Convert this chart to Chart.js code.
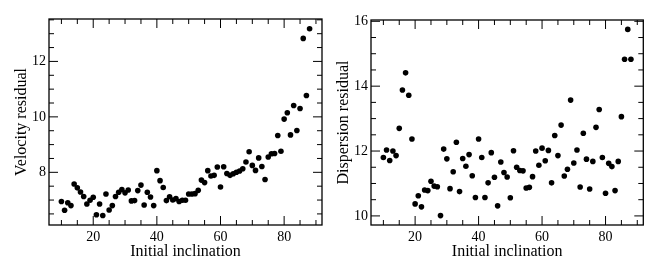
<!DOCTYPE html>
<html>
<head>
<meta charset="utf-8">
<script src="https://cdn.jsdelivr.net/npm/chart.js@4"></script>
<style>
  html, body { margin: 0; padding: 0; background: #fff; }
  .wrap { position: absolute; top: 0; width: 330px; height: 275px; }
  #left { left: 0; }
  #right { left: 330px; }
</style>
</head>
<body>
<div class="wrap" id="left"><canvas id="velChart" width="330" height="275"></canvas></div>
<div class="wrap" id="right"><canvas id="dispChart" width="330" height="275"></canvas></div>
<script>
// initial inclination (x) shared by both panels
const inclination = [10, 11, 12, 13, 14, 15, 16, 17, 18, 19, 20, 21, 22, 23, 24, 25, 26, 27, 28, 29,
  30, 31, 32, 33, 34, 35, 36, 37, 38, 39, 40, 41, 42, 43, 44, 45, 46, 47, 48, 49,
  50, 51, 52, 53, 54, 55, 56, 57, 58, 59, 60, 61, 62, 63, 64, 65, 66, 67, 68, 69,
  70, 71, 72, 73, 74, 75, 76, 77, 78, 79, 80, 81, 82, 83, 84, 85, 86, 87, 88];

// left panel
const velocityResidual = [6.95, 6.63, 6.9, 6.8, 7.58, 7.44, 7.29, 7.13, 6.86, 6.99, 7.1, 6.47, 6.86, 6.44, 7.22, 6.64, 6.8, 7.13, 7.28, 7.38,
  7.26, 7.36, 6.97, 6.98, 7.34, 7.54, 6.82, 7.28, 7.11, 6.8, 8.06, 7.7, 7.45, 6.98, 7.12, 7.0, 7.05, 6.95, 6.99, 6.99,
  7.22, 7.22, 7.23, 7.35, 7.72, 7.63, 8.06, 7.87, 7.89, 8.19, 7.47, 8.2, 7.96, 7.89, 7.95, 8.0, 8.05, 8.13, 8.37, 8.74,
  8.25, 8.07, 8.52, 8.21, 7.74, 8.55, 8.67, 8.68, 9.33, 8.76, 9.92, 10.15, 9.35, 10.41, 9.51, 10.3, 12.83, 10.77, 13.18];

// right panel
const dispersionResidual = [11.8, 12.03, 11.71, 12.0, 11.86, 12.7, 13.88, 14.41, 13.72, 12.37, 10.37, 10.62, 10.28, 10.8, 10.78, 11.07, 10.92, 10.9, 10.01, 12.06,
  11.76, 10.84, 11.36, 12.27, 10.75, 11.77, 11.53, 11.89, 11.24, 10.57, 12.37, 11.8, 10.57, 11.02, 11.95, 11.19, 10.31, 11.66, 11.34, 11.2,
  10.56, 12.01, 11.5, 11.4, 11.39, 10.86, 10.88, 11.21, 12.0, 11.56, 12.09, 11.7, 12.02, 11.02, 12.48, 11.86, 12.8, 11.23, 11.44, 13.57,
  11.63, 12.03, 10.89, 12.55, 11.75, 10.83, 11.68, 12.73, 13.28, 11.8, 10.7, 11.62, 11.52, 10.78, 11.68, 13.06, 14.83, 15.75, 14.83];

const xLabel = 'Initial inclination';
const serif = '"Liberation Serif", "DejaVu Serif", serif';

// inward ticks on all four sides plus the box, like matplotlib's "in" style
const frameTicks = {
  id: 'frameTicks',
  afterDatasetsDraw(chart, args, opts) {
    const {ctx, chartArea: a} = chart;
    const xs = chart.scales.x, ys = chart.scales.y;
    ctx.save();
    ctx.strokeStyle = '#000';
    ctx.lineWidth = 1;
    const major = 9, minor = 5;
    const drawX = (v, len) => {
      const px = xs.getPixelForValue(v);
      ctx.beginPath();
      ctx.moveTo(px, a.bottom); ctx.lineTo(px, a.bottom - len);
      ctx.moveTo(px, a.top); ctx.lineTo(px, a.top + len);
      ctx.stroke();
    };
    const drawY = (v, len) => {
      const py = ys.getPixelForValue(v);
      ctx.beginPath();
      ctx.moveTo(a.left, py); ctx.lineTo(a.left + len, py);
      ctx.moveTo(a.right, py); ctx.lineTo(a.right - len, py);
      ctx.stroke();
    };
    for (let v = Math.ceil(xs.min / opts.xMinor) * opts.xMinor; v <= xs.max; v += opts.xMinor) {
      drawX(v, v % opts.xMajor === 0 ? major : minor);
    }
    for (let v = Math.ceil(ys.min / opts.yMinor) * opts.yMinor; v <= ys.max + 1e-9; v += opts.yMinor) {
      const isMajor = Math.abs(v / opts.yMajor - Math.round(v / opts.yMajor)) < 1e-6;
      drawY(v, isMajor ? major : minor);
    }
    ctx.lineWidth = 1.3;
    ctx.strokeRect(a.left, a.top, a.right - a.left, a.bottom - a.top);
    ctx.restore();
  }
};

function makeChart(id, values, yTitle, yMin, yMax, pad, yWidth, titlePad) {
  return new Chart(document.getElementById(id), {
    type: 'scatter',
    data: {
      datasets: [{
        data: inclination.map((x, i) => ({x: x, y: values[i]})),
        backgroundColor: '#000',
        borderWidth: 0,
        pointRadius: 2.8,
        pointHoverRadius: 2.8
      }]
    },
    options: {
      responsive: false,
      animation: false,
      events: [],
      layout: { padding: pad },
      plugins: {
        legend: { display: false },
        tooltip: { enabled: false },
        frameTicks: { xMinor: 5, xMajor: 20, yMinor: 0.5, yMajor: 2 }
      },
      scales: {
        x: {
          type: 'linear',
          min: 6.1,
          max: 91.9,
          grid: { display: false, drawTicks: false },
          border: { display: false },
          ticks: {
            stepSize: 20,
            includeBounds: false,
            padding: 4,
            color: '#000',
            font: { family: serif, size: 14 }
          },
          title: {
            display: true,
            text: xLabel,
            color: '#000',
            font: { family: serif, size: 16 },
            padding: { top: 0, bottom: 14 }
          },
          afterFit(s) { s.height = 50; }
        },
        y: {
          type: 'linear',
          min: yMin,
          max: yMax,
          grid: { display: false, drawTicks: false },
          border: { display: false },
          ticks: {
            stepSize: 2,
            includeBounds: false,
            padding: 3,
            color: '#000',
            font: { family: serif, size: 14 }
          },
          title: {
            display: true,
            text: yTitle,
            color: '#000',
            font: { family: serif, size: 16 },
            padding: { top: titlePad, bottom: 0 }
          },
          afterFit(s) { s.width = yWidth; }
        }
      }
    },
    plugins: [frameTicks]
  });
}

makeChart('velChart', velocityResidual, 'Velocity residual', 6.1, 13.53,
  { top: 19, right: 8, left: 0, bottom: 0 }, 49, 11.7);
makeChart('dispChart', dispersionResidual, 'Dispersion residual', 9.72, 16.04,
  { top: 20, right: 16.7, left: 0, bottom: 0 }, 41, 4.3);
</script>
</body>
</html>
